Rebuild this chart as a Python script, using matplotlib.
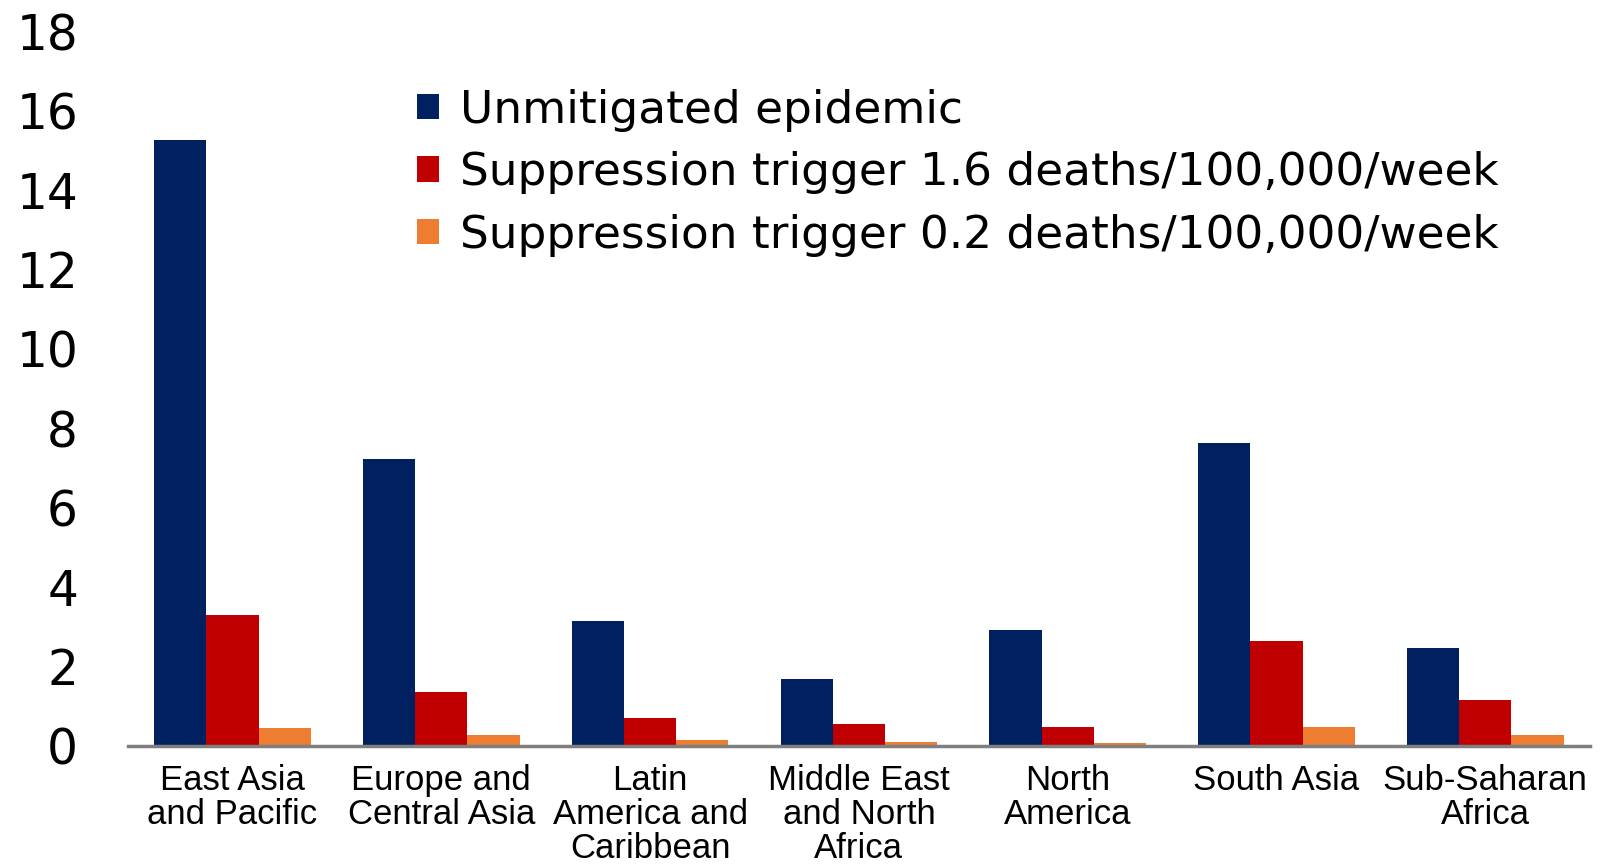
import numpy as np
import matplotlib.pyplot as plt

regions = ["East Asia\nand Pacific", "Europe and\nCentral Asia", "Latin\nAmerica and\nCaribbean",
           "Middle East\nand North\nAfrica", "North\nAmerica", "South Asia", "Sub-Saharan\nAfrica"]
unmitigated = [15.25, 7.23, 3.15, 1.68, 2.92, 7.62, 2.45]
trigger_16 = [3.28, 1.34, 0.70, 0.54, 0.47, 2.64, 1.16]
trigger_02 = [0.44, 0.26, 0.15, 0.08, 0.07, 0.47, 0.28]

plt.rcParams["font.family"] = ["Liberation Sans", "DejaVu Sans"]

fig = plt.figure(figsize=(16.09, 8.64), dpi=100)
ax = fig.add_axes([0.0796, 0.137, 0.9084, 0.827])

x = np.arange(len(regions))
w = 0.25
ax.bar(x - w, unmitigated, w, color="#002060", label="Unmitigated epidemic")
ax.bar(x, trigger_16, w, color="#C00000", label="Suppression trigger 1.6 deaths/100,000/week")
ax.bar(x + w, trigger_02, w, color="#ED7D31", label="Suppression trigger 0.2 deaths/100,000/week")

ax.set_xlim(-0.5, len(regions) - 0.5)
ax.set_ylim(0, 18)
ax.set_yticks(range(0, 19, 2))
ax.tick_params(axis="y", length=0, pad=36)
ax.tick_params(axis="x", length=0, pad=13)
for t in ax.get_yticklabels():
    t.set_fontfamily("DejaVu Sans")
    t.set_fontsize(35)
ax.set_xticks(x)
ax.set_xticklabels(regions, linespacing=1.05, fontsize=25)

for s in ["top", "right", "left"]:
    ax.spines[s].set_visible(False)
ax.spines["bottom"].set_color("#7f7f7f")
ax.spines["bottom"].set_linewidth(2.5)

ax.legend(loc="upper left", bbox_to_anchor=(0.185, 0.945), frameon=False,
          prop={"family": "DejaVu Sans", "size": 32.7},
          handlelength=0.5, handleheight=0.5, handletextpad=0.45,
          labelspacing=0.43, borderaxespad=0)

fig.savefig("out.png", dpi=100)
